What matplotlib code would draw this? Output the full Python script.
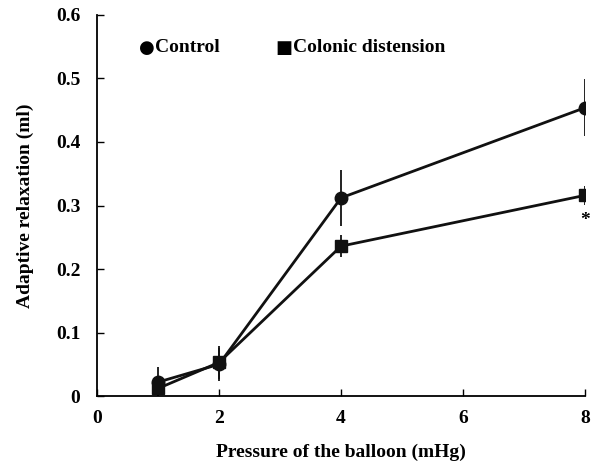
import matplotlib
matplotlib.use("Agg")
import matplotlib.pyplot as plt

x = [1, 2, 4, 8]
control = [0.022, 0.050, 0.312, 0.454]
control_err = [0.024, 0.026, 0.044, 0.045]
colonic = [0.012, 0.053, 0.236, 0.316]
colonic_err = [0.012, 0.026, 0.017, 0.015]
xticks = [0, 2, 4, 6, 8]
yticks = [0, 0.1, 0.2, 0.3, 0.4, 0.5, 0.6]
ytick_labels = ["0", "0.1", "0.2", "0.3", "0.4", "0.5", "0.6"]

plt.rcParams['font.family'] = ['Liberation Serif', 'DejaVu Sans']
plt.rcParams['font.weight'] = 'bold'

fig = plt.figure(figsize=(5.97, 4.66), dpi=100)
ax = fig.add_axes([0.1625, 0.150, 0.8175, 0.818])

ax.errorbar(x, control, yerr=control_err, color='#111111', marker='o', markersize=9,
            linewidth=2, elinewidth=1.3, capsize=0)
ax.errorbar(x, colonic, yerr=colonic_err, color='#111111', marker='s', markersize=8.5,
            linewidth=2, elinewidth=1.3, capsize=0)

ax.text(8, colonic[3] - colonic_err[3] - 0.012, '*', ha='center', va='top', fontsize=14)

ax.set_xlim(0, 8)
ax.set_ylim(0, 0.6)
ax.set_xticks(xticks)
ax.set_xticklabels([str(t) for t in xticks])
ax.set_yticks(yticks)
ax.set_yticklabels(ytick_labels)
ax.tick_params(direction='in', length=5, width=1, labelsize=14, pad=12)
ax.tick_params(axis='x', pad=10)
for s in ['top', 'right']:
    ax.spines[s].set_visible(False)
for s in ['left', 'bottom']:
    ax.spines[s].set_linewidth(1.3)
    ax.spines[s].set_clip_on(False)

ax.set_xlabel('Pressure of the balloon (mHg)', fontsize=14, fontweight='bold', labelpad=12)
ax.set_ylabel('Adaptive relaxation (ml)', fontsize=14, fontweight='bold', labelpad=16)

ly = 0.897
fig.text(0.233, ly, '\u25cf', fontsize=13, va='center', family=['DejaVu Sans'])
fig.text(0.259, ly, 'Control', fontsize=14, fontweight='bold', va='center')
fig.text(0.462, ly, '\u25a0', fontsize=13, va='center', family=['DejaVu Sans'])
fig.text(0.490, ly, 'Colonic distension', fontsize=14, fontweight='bold', va='center')

fig.savefig('out.png', dpi=100)
